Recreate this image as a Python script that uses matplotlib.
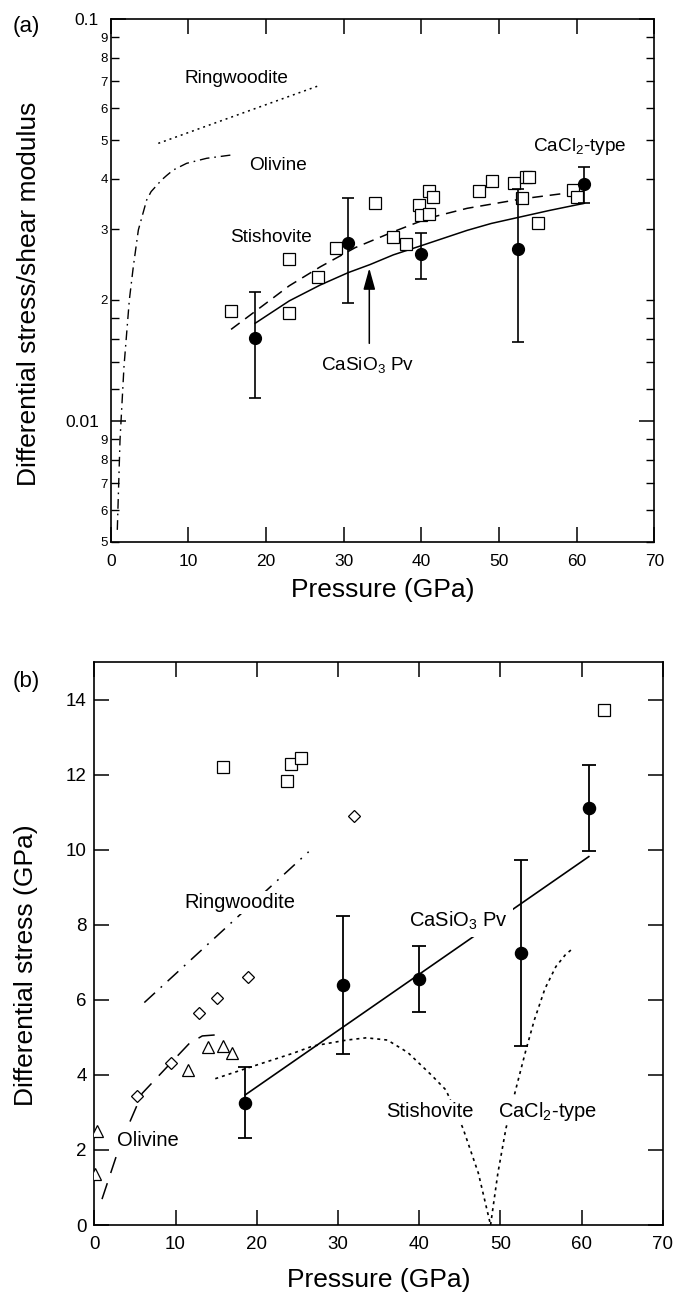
import matplotlib
matplotlib.use('Agg')
import matplotlib.pyplot as plt
from matplotlib.ticker import FixedLocator, FixedFormatter, NullLocator

plt.rcParams['font.family'] = ['Liberation Sans', 'DejaVu Sans']
plt.rcParams['mathtext.fontset'] = 'custom'
plt.rcParams['mathtext.rm'] = 'Liberation Sans'
plt.rcParams['mathtext.default'] = 'rm'

# ---------------- Panel (a) data: differential stress / shear modulus ----------------
pv_P = [18.6, 30.6, 40.0, 52.5, 60.9]
pv_ratio = [0.01611, 0.02777, 0.02598, 0.02674, 0.03886]
pv_ratio_hi = [0.02089, 0.03586, 0.02940, 0.03770, 0.04291]
pv_ratio_lo = [0.01138, 0.01969, 0.02251, 0.01575, 0.03492]

stv_P = [15.5, 23.0, 23.0, 26.7, 29.0, 34.0, 36.4, 38.0, 39.7, 39.9, 41.0, 41.0,
         41.5, 47.4, 49.1, 51.9, 53.0, 53.5, 53.9, 55.0, 59.5, 60.0]
stv_ratio = [0.01878, 0.02524, 0.01853, 0.02277, 0.02689, 0.03479, 0.02862, 0.02756,
             0.03446, 0.03253, 0.03740, 0.03272, 0.03600, 0.03740, 0.03954, 0.03903,
             0.03586, 0.04053, 0.04045, 0.03113, 0.03755, 0.03614]

pv_fit_P = [18.6, 20.5, 23.0, 27.0, 30.6, 33.4, 36.4, 40.0, 45.9, 49.0, 52.5, 56.5, 61.0]
pv_fit_ratio = [0.0175, 0.0185, 0.0199, 0.0218, 0.0234, 0.0245, 0.0259, 0.0273,
                0.0298, 0.0310, 0.0321, 0.0334, 0.0348]

stv_fit_P = [15.5, 19.4, 23.0, 27.0, 31.5, 36.4, 41.0, 45.9, 53.0, 60.8]
stv_fit_ratio = [0.0169, 0.01924, 0.0217, 0.02419, 0.0270, 0.02957, 0.0320, 0.03381,
                 0.0357, 0.03733]

ol_a_P = [0.85, 1.2, 1.71, 2.4, 2.91, 3.56, 4.63, 5.2, 6.56, 7.2, 8.06, 9.78, 12.36, 15.58]
ol_a_ratio = [0.00536, 0.00897, 0.01365, 0.0200, 0.02419, 0.02986, 0.03545, 0.0372,
              0.03978, 0.0408, 0.04211, 0.04375, 0.04503, 0.04590]

rw_a_P = [6.13, 26.7]
rw_a_ratio = [0.04905, 0.06814]

arrow_P = 33.3
arrow_from = 0.0156
arrow_to = 0.0240

ytick_a_major = [0.01, 0.1]
ytick_a_major_lbl = ['0.01', '0.1']
ytick_a_minor = [0.005, 0.006, 0.007, 0.008, 0.009, 0.012, 0.014, 0.016, 0.018,
                 0.02, 0.03, 0.04, 0.05, 0.06, 0.07, 0.08, 0.09]
ytick_a_minor_lbl = ['5', '6', '7', '8', '9', '', '', '', '',
                     '2', '3', '4', '5', '6', '7', '8', '9']

# ---------------- Panel (b) data: differential stress (GPa) ----------------
pv_stress = [3.26, 6.39, 6.56, 7.24, 11.11]
pv_stress_hi = [4.22, 8.25, 7.45, 9.73, 12.26]
pv_stress_lo = [2.31, 4.55, 5.69, 4.77, 9.98]

pv_line_P = [18.6, 60.9]
pv_line_S = [3.47, 9.82]

sq_P = [15.85, 24.2, 25.5, 23.75, 62.8]
sq_S = [12.22, 12.29, 12.44, 11.83, 13.73]

dm_P = [32.0, 18.9, 15.1, 12.95, 9.5, 5.26]
dm_S = [10.91, 6.62, 6.04, 5.64, 4.33, 3.44]

tri_P = [0.32, 0.05, 11.6, 13.96, 15.8, 16.9]
tri_S = [2.51, 1.35, 4.12, 4.74, 4.77, 4.58]

rw_b_P = [6.16, 26.4]
rw_b_S = [5.93, 9.95]

ol_b_P = [0.95, 3.24, 5.9, 9.6, 11.7, 13.3, 15.7]
ol_b_S = [0.69, 2.18, 3.51, 4.36, 4.84, 5.04, 5.08]

stv_b_P = [14.9, 18.8, 24.5, 26.9, 31.1, 33.5, 36.1, 38.6, 41.5, 43.3, 45.4, 47.3, 48.8]
stv_b_S = [3.90, 4.18, 4.58, 4.77, 4.93, 4.99, 4.93, 4.60, 4.00, 3.60, 2.58, 1.38, 0.0]

cacl_b_P = [48.8, 49.7, 50.7, 52.1, 53.2, 54.2, 55.5, 56.85, 58.0, 58.97]
cacl_b_S = [0.0, 1.38, 2.58, 3.78, 4.70, 5.47, 6.30, 6.89, 7.20, 7.38]

# ---------------- Figure ----------------
W, H = 676, 1304
fig = plt.figure(figsize=(W / 100, H / 100), dpi=100)


def fx(px):
    return px / W


def fy(py):
    return 1 - py / H


axa = fig.add_axes([fx(110.7), fy(542), fx(654.3) - fx(110.7), fy(19) - fy(542)])
axb = fig.add_axes([fx(94.3), fy(1225), fx(662.7) - fx(94.3), fy(662.3) - fy(1225)])

# ---- Panel (a)
axa.set_yscale('log')
axa.set_xlim(0, 70)
axa.set_ylim(0.005, 0.1)

axa.plot(ol_a_P, ol_a_ratio, color='black', lw=1.0, dashes=(7, 3.5, 1.2, 3.5), zorder=2)
axa.plot(rw_a_P, rw_a_ratio, color='black', lw=1.1, dashes=(1.3, 2.6), zorder=2)
axa.plot(stv_fit_P, stv_fit_ratio, color='black', lw=1.1, dashes=(7, 4.5), zorder=2)
axa.plot(pv_fit_P, pv_fit_ratio, color='black', lw=1.1, zorder=2)

axa.plot(stv_P, stv_ratio, 's', mfc='white', mec='black', ms=8.2, mew=0.9, zorder=3)
yerr_a = [[v - l for v, l in zip(pv_ratio, pv_ratio_lo)],
          [h - v for v, h in zip(pv_ratio, pv_ratio_hi)]]
axa.errorbar(pv_P, pv_ratio, yerr=yerr_a, fmt='o', color='black', ms=8.5,
             capsize=4.2, elinewidth=1.2, capthick=1.2, zorder=4)

axa.annotate('', xy=(arrow_P, arrow_to), xytext=(arrow_P, arrow_from),
             arrowprops=dict(arrowstyle='-|>,head_length=0.65,head_width=0.18',
                             mutation_scale=20, color='black', lw=1.1,
                             shrinkA=0, shrinkB=0), zorder=5)

fs_a = 13.7
axa.text(9.56, 0.0694, 'Ringwoodite', fontsize=fs_a, ha='left', va='baseline')
axa.text(17.8, 0.04215, 'Olivine', fontsize=fs_a, ha='left', va='baseline')
axa.text(15.4, 0.02791, 'Stishovite', fontsize=fs_a, ha='left', va='baseline')
axa.text(54.4, 0.04699, 'CaCl$_2$-type', fontsize=fs_a, ha='left', va='baseline')
axa.text(27.1, 0.01343, 'CaSiO$_3$ Pv', fontsize=fs_a, ha='left', va='baseline')

axa.xaxis.set_major_locator(FixedLocator(range(0, 71, 10)))
axa.xaxis.set_minor_locator(NullLocator())
axa.yaxis.set_major_locator(FixedLocator(ytick_a_major))
axa.yaxis.set_major_formatter(FixedFormatter(ytick_a_major_lbl))
axa.yaxis.set_minor_locator(FixedLocator(ytick_a_minor))
axa.yaxis.set_minor_formatter(FixedFormatter(ytick_a_minor_lbl))
axa.tick_params(which='both', direction='in', top=True, right=True)
axa.tick_params(which='major', length=10.5, width=1.1)
axa.tick_params(which='minor', length=5.5, width=1.0)
axa.tick_params(axis='x', which='major', pad=9, labelsize=12.5)
axa.tick_params(axis='y', which='major', pad=8.5, labelsize=12.5)
axa.tick_params(axis='y', which='minor', pad=2, labelsize=9.5)
for s in axa.spines.values():
    s.set_linewidth(1.2)

# ---- Panel (b)
axb.set_xlim(0, 70)
axb.set_ylim(0, 15)

axb.plot(ol_b_P, ol_b_S, color='black', lw=1.1, dashes=(11, 7), zorder=2)
axb.plot(rw_b_P, rw_b_S, color='black', lw=1.1, dashes=(9.5, 5, 1.2, 5), zorder=2)
axb.plot(stv_b_P, stv_b_S, color='black', lw=1.2, dashes=(1.8, 2.4), zorder=2)
axb.plot(cacl_b_P, cacl_b_S, color='black', lw=1.2, dashes=(1.8, 2.4), zorder=2)
axb.plot(pv_line_P, pv_line_S, color='black', lw=1.2, zorder=2)

axb.plot(sq_P, sq_S, 's', mfc='white', mec='black', ms=9, mew=0.9, zorder=3)
axb.plot(dm_P, dm_S, 'D', mfc='white', mec='black', ms=6.2, mew=0.9, zorder=3)
axb.plot(tri_P, tri_S, '^', mfc='white', mec='black', ms=9, mew=0.9, zorder=3)
yerr_b = [[v - l for v, l in zip(pv_stress, pv_stress_lo)],
          [h - v for v, h in zip(pv_stress, pv_stress_hi)]]
axb.errorbar(pv_P, pv_stress, yerr=yerr_b, fmt='o', color='black', ms=8.7,
             capsize=4.8, elinewidth=1.3, capthick=1.3, zorder=4)

fs_b = 14.5
wb = dict(facecolor='white', edgecolor='none', pad=1.5)
axb.text(11.1, 8.445, 'Ringwoodite', fontsize=fs_b, ha='left', va='baseline', bbox=wb, zorder=5)
axb.text(38.8, 7.955, 'CaSiO$_3$ Pv', fontsize=fs_b, ha='left', va='baseline',
         bbox=dict(facecolor='white', edgecolor='none', pad=3.5), zorder=5)
axb.text(36.0, 2.87, 'Stishovite', fontsize=fs_b, ha='left', va='baseline', bbox=wb, zorder=5)
axb.text(49.7, 2.89, 'CaCl$_2$-type', fontsize=fs_b, ha='left', va='baseline', bbox=wb, zorder=5)
axb.text(2.81, 2.11, 'Olivine', fontsize=fs_b, ha='left', va='baseline', bbox=wb, zorder=5)

axb.xaxis.set_major_locator(FixedLocator(range(0, 71, 10)))
axb.yaxis.set_major_locator(FixedLocator(range(0, 15, 2)))
axb.tick_params(which='both', direction='in', top=True, right=True)
axb.tick_params(which='major', length=10.5, width=1.1, labelsize=13.5)
axb.tick_params(axis='x', pad=8)
axb.tick_params(axis='y', pad=5.5)
for s in axb.spines.values():
    s.set_linewidth(1.2)

# ---- Labels
fs_lab = 19
fig.text(fx(29), fy(293.5), 'Differential stress/shear modulus', rotation=90,
         fontsize=fs_lab, ha='center', va='center')
fig.text(fx(382.5), fy(590), 'Pressure (GPa)', fontsize=fs_lab, ha='center', va='center')
fig.text(fx(26), fy(965), 'Differential stress (GPa)', rotation=90,
         fontsize=fs_lab, ha='center', va='center')
fig.text(fx(378.5), fy(1280), 'Pressure (GPa)', fontsize=fs_lab, ha='center', va='center')

fig.text(fx(12.7), fy(32.3), '(a)', fontsize=16, ha='left', va='baseline')
fig.text(fx(12.7), fy(686.7), '(b)', fontsize=16, ha='left', va='baseline')

fig.savefig('out.png', dpi=100)
